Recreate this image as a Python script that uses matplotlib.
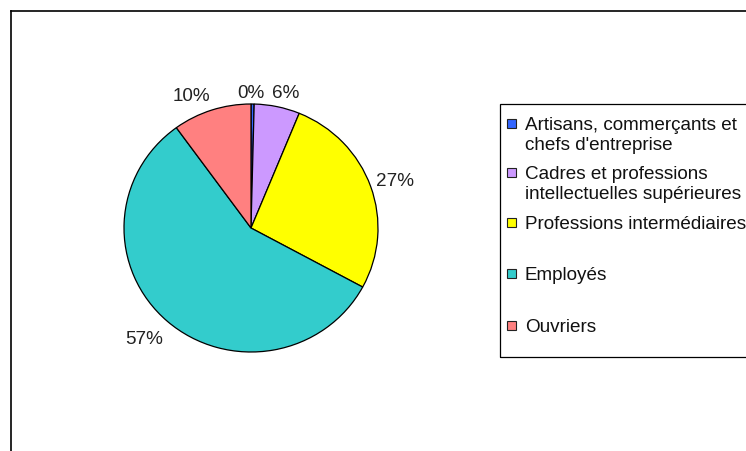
import matplotlib.pyplot as plt
import matplotlib.patches as patches
from matplotlib.lines import Line2D

# ========== Data ==========
categories = ["Artisans, commerçants et\nchefs d'entreprise",
              "Cadres et professions\nintellectuelles supérieures",
              "Professions intermédiaires",
              "Employés",
              "Ouvriers"]
shares = [0.4, 5.8, 26.7, 57.1, 10.0]
colors = ['#3366FF', '#CC99FF', '#FFFF00', '#33CCCC', '#FF8080']

W, H = 746, 451
FS = 13.6
FAMILY = ['Liberation Sans', 'DejaVu Sans']

def fx(px):
    return px / W

def fy(py):
    return 1 - py / H

fig = plt.figure(figsize=(W / 100, H / 100), dpi=100)

# outer chart frame (right and bottom edges are off the picture)
fig.add_artist(Line2D([fx(11), fx(11)], [fy(11), fy(460)], color='black', linewidth=1.2))
fig.add_artist(Line2D([fx(11), fx(760)], [fy(11), fy(11)], color='black', linewidth=1.2))

# ========== Pie ==========
cx, cy, rx, ry = 251, 228, 127, 124
ax = fig.add_axes([fx(cx - rx), fy(cy + ry), (2 * rx) / W, (2 * ry) / H])
wedges, texts, autotexts = ax.pie(
    shares, colors=colors, startangle=90, counterclock=False,
    autopct=lambda p: '%d%%' % round(p), pctdistance=1.15,
    wedgeprops=dict(edgecolor='black', linewidth=0.9),
    textprops=dict(fontsize=FS, family=FAMILY, color='#222222'))
ax.set_aspect('auto')
ax.set_xlim(-1, 1)
ax.set_ylim(-1, 1)
ax.axis('off')

# Excel-like placement of the percentage labels (pixel offsets from pie centre)
label_offsets = [(0, 136.5), (34.5, 136.5), (144, 49), (-106.5, -109.5), (-59.5, 134)]
cap_half = 6.8
for t, (dx, dy) in zip(autotexts, label_offsets):
    t.set_position((dx / rx, (dy - cap_half) / ry))
    t.set_verticalalignment('baseline')
    t.set_horizontalalignment('center')

# ========== Legend (drawn by hand, Excel style) ==========
box_left, box_top, box_bottom = 500, 104, 357
fig.add_artist(patches.Rectangle((fx(box_left), fy(box_bottom)), fx(760 - box_left),
                                 (box_bottom - box_top) / H, transform=fig.transFigure,
                                 fill=False, edgecolor='black', linewidth=0.9))

entry_y = [123, 172, 222, 273, 325]
line_gap = 20
for label, color, y0 in zip(categories, colors, entry_y):
    fig.add_artist(patches.Rectangle((fx(507), fy(y0 + 4.5)), 9 / W, 9 / H,
                                     transform=fig.transFigure, facecolor=color,
                                     edgecolor='#222222', linewidth=0.8))
    for i, line in enumerate(label.split('\n')):
        fig.text(fx(525), fy(y0 + i * line_gap + cap_half), line, ha='left', va='baseline',
                 fontsize=FS, family=FAMILY, color='#111111')

plt.savefig('out.png', dpi=100)
